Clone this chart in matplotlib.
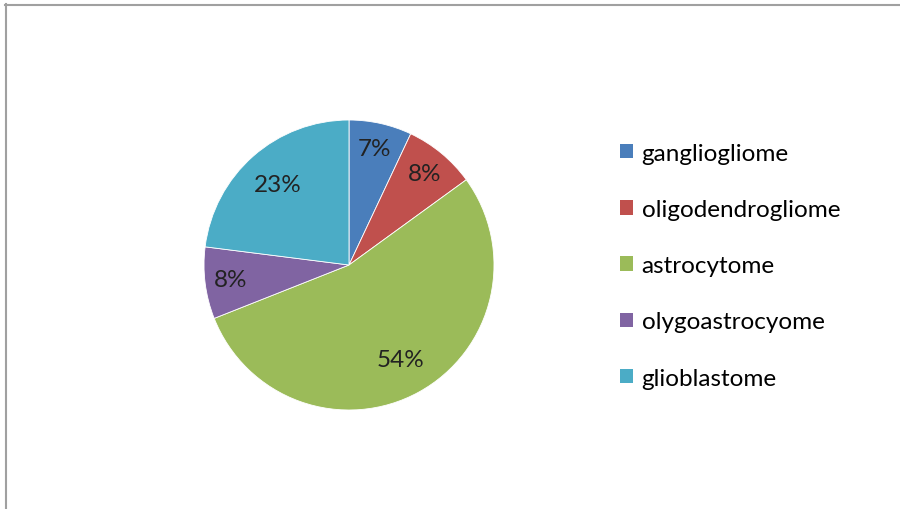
import numpy as np
import matplotlib.pyplot as plt
from matplotlib.lines import Line2D
from matplotlib.patches import Patch

# tumour types and their share (%)
categories = ['gangliogliome', 'oligodendrogliome', 'astrocytome',
              'olygoastrocyome', 'glioblastome']
shares = [7, 8, 54, 8, 23]
colors = ['#4A7EBB', '#C0504D', '#9BBB59', '#8064A2', '#4BACC6']

plt.rcParams['font.family'] = ['Lato', 'DejaVu Sans']

W, H = 900, 510
fig = plt.figure(figsize=(W / 100, H / 100), dpi=100)

# pie centre and radius in pixels
cx, cy, r = 349, 266, 145
ax = fig.add_axes([(cx - r) / W, (H - cy - r) / H, 2 * r / W, 2 * r / H])

wedges, texts, autotexts = ax.pie(
    shares, colors=colors, startangle=90, counterclock=False,
    autopct='%d%%', pctdistance=0.76,
    wedgeprops=dict(edgecolor='white', linewidth=0.6),
    textprops=dict(fontsize=17.5, color='#222222'))

# excel-like label placement: small slices pushed a bit outward
for w, t, s in zip(wedges, autotexts, shares):
    mid = np.deg2rad((w.theta1 + w.theta2) / 2)
    d = 0.82 if s < 10 else 0.74
    t.set_position((d * np.cos(mid), d * np.sin(mid)))

ax.set_xlim(-1, 1)
ax.set_ylim(-1, 1)
ax.set_aspect('equal')
ax.axis('off')

handles = [Patch(facecolor=c, edgecolor='none') for c in colors]
fig.legend(handles, categories, loc='upper left',
           bbox_to_anchor=(610 / W, 1 - 134 / H), frameon=False,
           fontsize=17.5, handlelength=0.55, handleheight=0.55,
           handletextpad=0.35, labelspacing=1.45, borderaxespad=0)

# chart frame (top and left edges visible)
frame = dict(color='#A0A0A0', linewidth=1.5, transform=fig.transFigure)
fig.add_artist(Line2D([5 / W, 1], [1 - 5.5 / H, 1 - 5.5 / H], **frame))
fig.add_artist(Line2D([5.5 / W, 5.5 / W], [0, 1 - 5 / H], **frame))

fig.savefig('out.png', dpi=100)
